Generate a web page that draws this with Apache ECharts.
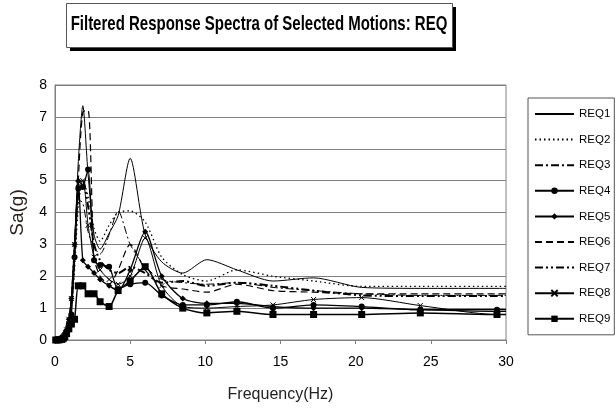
<!DOCTYPE html>
<html><head><meta charset="utf-8">
<script src="https://cdn.jsdelivr.net/npm/echarts@6/dist/echarts.min.js"></script>
<style>html,body{margin:0;padding:0;background:#fff}#c{width:616px;height:408px}</style>
</head><body><div id="c"></div>
<script>
const titleText = 'Filtered Response Spectra of Selected Motions: REQ';
const xName = 'Frequency(Hz)';
const yName = 'Sa(g)';
const seriesNames = ['REQ1','REQ2','REQ3','REQ4','REQ5','REQ6','REQ7','REQ8','REQ9'];
const freq = [0.05, 0.2, 0.32, 0.46, 0.55, 0.65, 0.77, 0.92, 1.09, 1.3, 1.55, 1.85, 2.2, 2.6, 3.0, 3.6, 4.2, 5.0, 6.0, 7.1, 8.5, 10.1, 12.1, 14.5, 17.2, 20.4, 24.3, 29.4, 30];
const REQ1 = [0.01, 0.01, 0.02, 0.04, 0.08, 0.15, 0.3, 0.6, 1.2, 2.9, 5.6, 7.35, 5.2, 3.3, 2.85, 3.35, 3.9, 5.7, 3.3, 2.45, 2.1, 2.52, 2.2, 1.85, 1.95, 1.65, 1.62, 1.62, 1.62];
const REQ2 = [0.01, 0.01, 0.02, 0.04, 0.07, 0.13, 0.25, 0.5, 1.0, 2.2, 4.2, 5.0, 4.5, 3.5, 3.1, 3.6, 4.0, 4.05, 3.7, 2.6, 2.05, 1.85, 2.2, 2.0, 1.85, 1.68, 1.68, 1.68, 1.68];
const REQ3 = [0.01, 0.01, 0.02, 0.04, 0.07, 0.14, 0.28, 0.55, 1.1, 2.5, 4.4, 4.3, 3.4, 2.9, 2.7, 3.3, 4.05, 3.0, 2.3, 1.9, 1.8, 1.75, 1.8, 1.65, 1.55, 1.45, 1.4, 1.4, 1.4];
const REQ4 = [0.01, 0.01, 0.02, 0.04, 0.07, 0.13, 0.25, 0.5, 0.8, 2.6, 4.75, 4.8, 5.35, 2.5, 2.35, 2.3, 1.6, 1.75, 1.8, 1.4, 1.1, 1.1, 1.2, 1.0, 1.1, 1.05, 0.95, 0.95, 0.95];
const REQ5 = [0.01, 0.01, 0.02, 0.05, 0.09, 0.17, 0.32, 0.65, 1.3, 3.0, 5.0, 2.5, 2.3, 2.1, 1.9, 1.7, 1.55, 2.2, 3.4, 2.0, 1.3, 1.15, 1.15, 1.05, 1.0, 1.0, 0.95, 0.9, 0.9];
const REQ6 = [0.01, 0.01, 0.02, 0.04, 0.07, 0.13, 0.25, 0.5, 1.0, 2.4, 5.0, 7.15, 7.2, 2.6, 2.0, 1.75, 2.2, 3.0, 2.2, 1.7, 1.6, 1.5, 1.75, 1.55, 1.5, 1.45, 1.45, 1.45, 1.45];
const REQ7 = [0.01, 0.01, 0.02, 0.04, 0.08, 0.15, 0.3, 0.6, 1.2, 2.8, 4.6, 5.0, 4.2, 3.0, 2.5, 2.2, 2.1, 2.3, 2.1, 1.8, 1.85, 1.7, 1.8, 1.7, 1.55, 1.4, 1.38, 1.38, 1.38];
const REQ8 = [0.01, 0.01, 0.02, 0.05, 0.09, 0.17, 0.32, 0.65, 1.3, 3.0, 4.9, 5.0, 3.6, 2.6, 2.2, 1.9, 1.75, 2.0, 3.2, 1.7, 1.05, 1.0, 1.05, 1.1, 1.27, 1.33, 1.08, 0.8, 0.8];
const REQ9 = [0.0, 0.0, 0.01, 0.02, 0.05, 0.1, 0.2, 0.35, 0.5, 0.65, 1.7, 1.7, 1.45, 1.45, 1.2, 1.05, 1.55, 1.85, 2.3, 1.45, 1.0, 0.85, 0.9, 0.8, 0.8, 0.8, 0.85, 0.8, 0.8];
const seriesValues = [REQ1, REQ2, REQ3, REQ4, REQ5, REQ6, REQ7, REQ8, REQ9];

const FONT = '"Liberation Sans", Arial, sans-serif';
const styles = [
  {type:'solid', width:1, symbol:'none', size:0},
  {type:[1.5,3], width:1.3, symbol:'none', size:0},
  {type:[8,3,2,3], width:1, symbol:'none', size:0},
  {type:'solid', width:1.3, symbol:'circle', size:6},
  {type:'solid', width:1.3, symbol:'diamond', size:6},
  {type:[7,4], width:1.2, symbol:'none', size:0},
  {type:[8,3,2,3,2,3], width:2, symbol:'none', size:0},
  {type:'solid', width:1, symbol:'path://M0,0L10,10M10,0L0,10', size:5},
  {type:'solid', width:1.5, symbol:'rect', size:7}
];

const series = seriesNames.map((name, k) => {
  const st = styles[k];
  const data = freq.map((f, i) => {
    const item = {value: [f, seriesValues[k][i]]};
    if (i === freq.length - 1) item.symbol = 'none';
    return item;
  });
  return {
    name, type: 'line', data, smooth: 0.25,
    symbol: st.symbol, symbolSize: st.size, showSymbol: st.symbol !== 'none',
    lineStyle: {color:'#000', width: st.width, type: st.type},
    itemStyle: {color:'#000', borderColor:'#000', borderWidth: st.symbol.startsWith('path') ? 1 : 0},
    emphasis: {disabled: true}
  };
});

const legendData = seriesNames.map((name, k) => (
  styles[k].symbol === 'none'
    ? {name, itemStyle:{opacity:0, color:'transparent', borderWidth:0}}
    : {name}
));

const chart = echarts.init(document.getElementById('c'), null, {renderer:'canvas'});
chart.setOption({
  animation: false,
  backgroundColor: '#fff',
  graphic: [
    {type:'rect', shape:{x:70, y:7, width:386, height:44}, style:{fill:'#000'}},
    {type:'rect', shape:{x:66.5, y:3.5, width:386, height:44}, style:{fill:'#fff', stroke:'#555', lineWidth:1}},
    {type:'text', x:259, y:24, scaleY:1.4, style:{text:titleText, font:'bold 15px ' + FONT, align:'center', verticalAlign:'middle', fill:'#000'}}
  ],
  grid: {left:50, right:110, top:85, bottom:65, show:true, borderColor:'#808080', borderWidth:1, backgroundColor:'transparent'},
  legend: {
    data: legendData, orient:'vertical', left:528, top:98,
    itemWidth:39, itemHeight:8, itemGap:13.6, padding:[10,4,10,6],
    borderColor:'#555', borderWidth:1, align:'left',
    textStyle:{fontFamily:FONT, fontSize:11.5, color:'#000'}
  },
  xAxis: {
    type:'value', min:0, max:30, interval:5,
    axisLine:{show:true, lineStyle:{color:'#808080'}},
    axisTick:{show:true, length:4, lineStyle:{color:'#808080'}},
    splitLine:{show:false},
    axisLabel:{margin:15, fontSize:14, color:'#000', fontFamily:FONT},
    name:xName, nameLocation:'middle', nameGap:47,
    nameTextStyle:{fontSize:16, color:'#222', fontFamily:FONT}
  },
  yAxis: {
    type:'value', min:0, max:8, interval:1,
    axisLine:{show:true, lineStyle:{color:'#808080'}},
    axisTick:{show:false},
    splitLine:{show:true, lineStyle:{color:'#808080', width:1}},
    axisLabel:{margin:8, fontSize:14, color:'#000', fontFamily:FONT},
    name:yName, nameLocation:'middle', nameGap:28, nameRotate:90,
    nameTextStyle:{fontSize:19, color:'#2a2020', fontFamily:FONT}
  },
  series
});
</script></body></html>
